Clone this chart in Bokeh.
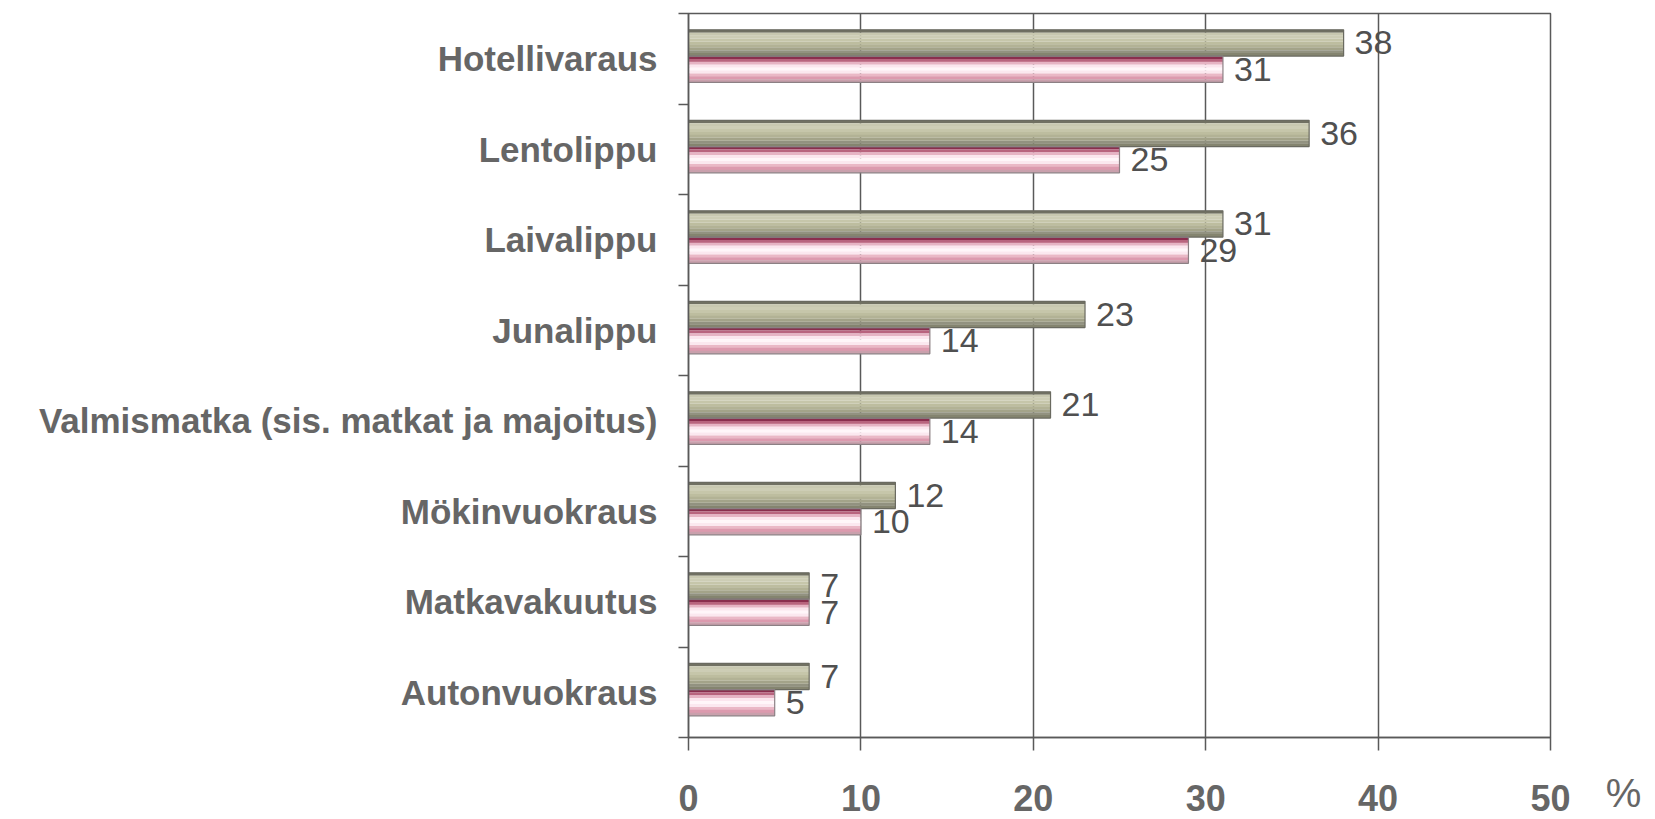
from bokeh.plotting import figure
from bokeh.models import Range1d, FixedTicker, ColumnDataSource, Div
from bokeh.layouts import row
from bokeh.transform import dodge
from bokeh.core.properties import value
from bokeh.embed import file_html
from bokeh.resources import INLINE

# ---- data ----
categories = ["Hotellivaraus", "Lentolippu", "Laivalippu", "Junalippu",
              "Valmismatka (sis. matkat ja majoitus)", "Mökinvuokraus",
              "Matkavakuutus", "Autonvuokraus"]
series_gray = [38, 36, 31, 23, 21, 12, 7, 7]
series_pink = [31, 25, 29, 14, 14, 10, 7, 5]
x_ticks = [0, 10, 20, 30, 40, 50]
unit_label = "%"

FONT = "Liberation Sans"
TXT = "#666666"
LINE = "#595959"

n = len(categories)
centers = [n - i - 0.5 for i in range(n)]
junction = [c + 0.03 for c in centers]
bar_h = 0.29

W, H = 1590, 819
p = figure(width=W, height=H, output_backend="svg", toolbar_location=None,
           x_range=Range1d(0, 50), y_range=Range1d(0, n),
           min_border_left=688, min_border_right=W - 1550,
           min_border_top=13, min_border_bottom=82)
p.background_fill_color = "white"
p.border_fill_color = "white"
p.outline_line_color = LINE
p.outline_line_width = 1.5

p.ygrid.visible = False
p.xgrid.ticker = FixedTicker(ticks=x_ticks)
p.xgrid.grid_line_color = LINE
p.xgrid.grid_line_width = 1.5

src = ColumnDataSource(dict(cat=categories, gray=series_gray, pink=series_pink,
                            yj=junction,
                            gl=[str(v) for v in series_gray],
                            pl=[str(v) for v in series_pink]))

gray_cols = ["#707062", "#c8c8b0", "#cdcdb5", "#c6c6aa", "#bdbd9f",
             "#b2b295", "#a3a389", "#929280", "#84846f"]
pink_cols = ["#8a2e4e", "#b8647e", "#e6b4c4", "#fbe6ee", "#fff6f9",
             "#fbe8ef", "#eab8c6", "#dc9aae", "#c9a0ac"]
ns = len(gray_cols)
sh = bar_h / ns
for k, col in enumerate(gray_cols):
    off = bar_h - (k + 0.5) * sh
    p.hbar(y=dodge("yj", off), right="gray", left=0, height=sh * 1.05,
           source=src, fill_color=col, line_color=None)
for k, col in enumerate(pink_cols):
    off = -(k + 0.5) * sh
    p.hbar(y=dodge("yj", off), right="pink", left=0, height=sh * 1.05,
           source=src, fill_color=col, line_color=None)
p.hbar(y=dodge("yj", bar_h / 2), right="gray", left=0, height=bar_h, source=src,
       fill_color=None, line_color="#6a6a60", line_width=1.2)
p.hbar(y=dodge("yj", -bar_h / 2), right="pink", left=0, height=bar_h, source=src,
       fill_color=None, line_color="#8c8084", line_width=1.2)

p.text(x="gray", y=dodge("yj", bar_h / 2), text="gl", source=src, x_offset=11,
       text_baseline="middle", text_align="left", text_font=value(FONT),
       text_font_size="34px", text_color="#505050")
p.text(x="pink", y=dodge("yj", -bar_h / 2), text="pl", source=src, x_offset=11,
       text_baseline="middle", text_align="left", text_font=value(FONT),
       text_font_size="34px", text_color="#505050")

xa = p.xaxis[0]
xa.ticker = FixedTicker(ticks=x_ticks, minor_ticks=[])
xa.axis_line_color = LINE
xa.axis_line_width = 1.5
xa.major_tick_line_color = LINE
xa.major_tick_line_width = 1.5
xa.major_tick_out = 13
xa.major_tick_in = 0
xa.minor_tick_out = 0
xa.minor_tick_in = 0
xa.major_label_standoff = 34
xa.major_label_text_font = FONT
xa.major_label_text_font_size = "36px"
xa.major_label_text_font_style = "bold"
xa.major_label_text_color = TXT

ya = p.yaxis[0]
ya.ticker = FixedTicker(ticks=centers, minor_ticks=list(range(0, n + 1)))
ya.major_label_overrides = {c: cat for c, cat in zip(centers, categories)}
ya.major_tick_out = 0
ya.major_tick_in = 0
ya.minor_tick_out = 10
ya.minor_tick_in = 0
ya.minor_tick_line_color = LINE
ya.minor_tick_line_width = 1.5
ya.axis_line_color = LINE
ya.axis_line_width = 1.5
ya.major_label_standoff = 21
ya.major_label_text_font = FONT
ya.major_label_text_font_size = "35px"
ya.major_label_text_font_style = "bold"
ya.major_label_text_color = TXT

# unit sign beside the x axis tick labels
W2 = 1655 - W
unit = Div(
    text=(f'<div style="position:absolute; left:2px; width:{W2 - 2}px; top:770px; '
          f'height:46px; line-height:46px; text-align:center; '
          f'font-family:\'{FONT}\'; font-size:40px; color:{TXT};">{unit_label}</div>'),
    width=W2, height=H, styles={"position": "relative", "margin": "0", "padding": "0"})

layout = row(p, unit, spacing=0)
open("out.html", "w").write(file_html(layout, INLINE))
